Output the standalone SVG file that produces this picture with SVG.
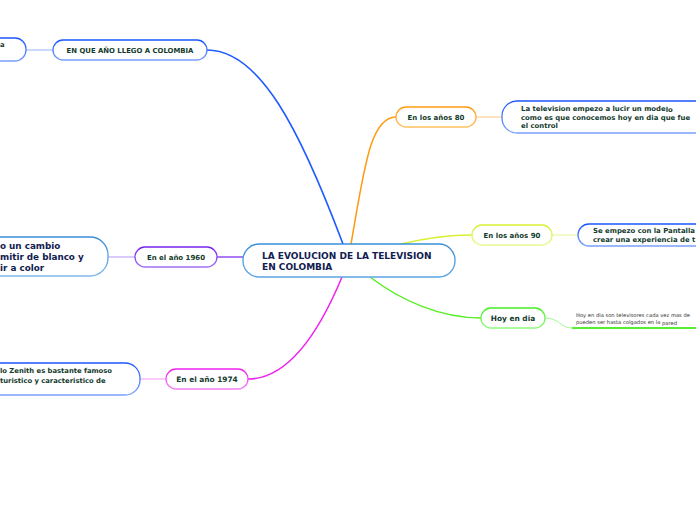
<svg xmlns="http://www.w3.org/2000/svg" width="696" height="520" viewBox="0 0 696 520">
<style>
  .t { font-family: "DejaVu Sans", Verdana, sans-serif; font-weight: bold; fill: #123a2c; }
  .tn { font-family: "DejaVu Sans", Verdana, sans-serif; font-weight: bold; fill: #102050; }
  .ts { font-family: "DejaVu Sans", Verdana, sans-serif; fill: #333; font-size: 5.2px; }
  .box { fill: #fff; stroke-width: 1.3; }
  .c { fill: none; }
</style>
<defs>
  <linearGradient id="gBlue" x1="0" y1="0" x2="0" y2="1"><stop offset="0" stop-color="#1a55ff"/><stop offset="1" stop-color="#7aa0ff"/></linearGradient>
  <linearGradient id="gCentral" x1="0" y1="0" x2="0" y2="1"><stop offset="0" stop-color="#3a8ed8"/><stop offset="1" stop-color="#5aa6e4"/></linearGradient>
  <linearGradient id="gOrange" x1="0" y1="0" x2="0" y2="1"><stop offset="0" stop-color="#ff9a10"/><stop offset="1" stop-color="#ffc060"/></linearGradient>
  <linearGradient id="gYellow" x1="0" y1="0" x2="0" y2="1"><stop offset="0" stop-color="#d8f030"/><stop offset="1" stop-color="#e8f890"/></linearGradient>
  <linearGradient id="gGreen" x1="0" y1="0" x2="0" y2="1"><stop offset="0" stop-color="#44ee22"/><stop offset="1" stop-color="#90f880"/></linearGradient>
  <linearGradient id="gPurple" x1="0" y1="0" x2="0" y2="1"><stop offset="0" stop-color="#7722ee"/><stop offset="1" stop-color="#a070f4"/></linearGradient>
  <linearGradient id="gMagenta" x1="0" y1="0" x2="0" y2="1"><stop offset="0" stop-color="#ee22ee"/><stop offset="1" stop-color="#f480f4"/></linearGradient>
  <linearGradient id="gBlue2" x1="0" y1="0" x2="0" y2="1"><stop offset="0" stop-color="#3a8ed8"/><stop offset="1" stop-color="#80b8ec"/></linearGradient>
</defs>

<g id="connectors">
  <path class="c" d="M343,244 C300,130 260,50 207,50" stroke="#1f5cff" stroke-width="1.6"/>
  <path class="c" d="M351,244 C364,170 370,117 396,117" stroke="#ff9a10" stroke-width="1.5"/>
  <path class="c" d="M401,244 C430,237 450,235 472,235" stroke="#d8f030" stroke-width="1.5"/>
  <path class="c" d="M370,277 C400,300 440,318 481,318" stroke="#55ee22" stroke-width="1.4"/>
  <path class="c" d="M342,277 C320,330 290,379 248,379" stroke="#ee22ee" stroke-width="1.5"/>
  <path class="c" d="M243,257 L217,257" stroke="#7722ee" stroke-width="1.2"/>
  <path class="c" d="M26,50 L53,50" stroke="#a8c0ff" stroke-width="1.2"/>
  <path class="c" d="M476,117 L502,117" stroke="#ffd090" stroke-width="1.2"/>
  <path class="c" d="M552,235 L578,235" stroke="#eaf8a0" stroke-width="1.2"/>
  <path class="c" d="M108,257 L135,257" stroke="#c0a8f8" stroke-width="1.2"/>
  <path class="c" d="M140,379 L166,379" stroke="#f8a8f8" stroke-width="1.2"/>
  <path class="c" d="M545,318 C560,318 560,328 572,328" stroke="#a8f898" stroke-width="1"/>
  <path class="c" d="M572,328 L696,328" stroke="#55ee33" stroke-width="2"/>
</g>

<g id="central">
  <rect class="box" x="243" y="244" width="212" height="33" rx="16" stroke="url(#gCentral)"/>
  <text class="tn" x="262" y="259" font-size="9">LA EVOLUCION DE LA TELEVISION</text>
  <text class="tn" x="262" y="270" font-size="9">EN COLOMBIA</text>
</g>

<g id="llego">
  <rect class="box" x="53" y="40" width="154" height="20" rx="10" stroke="url(#gBlue)"/>
  <text class="t" x="130" y="53" font-size="6.9" text-anchor="middle">EN QUE AÑO LLEGO A COLOMBIA</text>
</g>
<g id="llego-detail">
  <rect class="box" x="-30" y="38" width="56" height="23" rx="11" stroke="url(#gBlue)"/>
  <text class="t" x="0" y="47" font-size="6.8">a</text>
</g>

<g id="anos80">
  <rect class="box" x="396" y="107" width="80" height="20" rx="10" stroke="url(#gOrange)"/>
  <text class="t" x="436" y="120" font-size="7" text-anchor="middle">En los años 80</text>
</g>
<g id="anos80-detail">
  <rect class="box" x="502" y="101" width="220" height="32" rx="15" stroke="url(#gBlue)"/>
  <text class="t" x="521" y="111" font-size="6.9">La television empezo a lucir un mode<tspan dy="1">lo</tspan></text>
  <text class="t" x="521" y="120" font-size="6.9">como es que conocemos hoy en dia que fue</text>
  <text class="t" x="521" y="128" font-size="6.9">el control</text>
</g>

<g id="anos90">
  <rect class="box" x="472" y="225" width="80" height="20" rx="10" stroke="url(#gYellow)"/>
  <text class="t" x="512" y="238" font-size="7" text-anchor="middle">En los años 90</text>
</g>
<g id="anos90-detail">
  <rect class="box" x="578" y="224" width="140" height="22" rx="11" stroke="url(#gBlue)"/>
  <text class="t" x="593" y="233" font-size="6.9">Se empezo con la Pantalla</text>
  <text class="t" x="593" y="242" font-size="6.9">crear una experiencia de t</text>
</g>

<g id="hoy">
  <rect class="box" x="481" y="308" width="64" height="20" rx="10" stroke="url(#gGreen)"/>
  <text class="t" x="513" y="321" font-size="7.4" text-anchor="middle">Hoy en dia</text>
</g>
<g id="hoy-detail">
  <text class="ts" x="576" y="317">Hoy en dia son televisores cada vez mas de</text>
  <text class="ts" x="576" y="323.5">pueden ser hasta colgados en la <tspan dy="1">pared</tspan></text>
</g>

<g id="ano1960">
  <rect class="box" x="135" y="247" width="82" height="20" rx="10" stroke="url(#gPurple)"/>
  <text class="t" x="176" y="260" font-size="7" text-anchor="middle">En el año 1960</text>
</g>
<g id="ano1960-detail">
  <rect class="box" x="-40" y="237" width="148" height="39" rx="18" stroke="url(#gBlue2)"/>
  <text class="tn" x="0" y="249" font-size="8.8">o un cambio</text>
  <text class="tn" x="0" y="260" font-size="8.8">mitir de blanco y</text>
  <text class="tn" x="0" y="271" font-size="8.8">ir a color</text>
</g>

<g id="ano1974">
  <rect class="box" x="166" y="369" width="82" height="20" rx="10" stroke="url(#gMagenta)"/>
  <text class="t" x="207" y="382" font-size="7.4" text-anchor="middle">En el año 1974</text>
</g>
<g id="ano1974-detail">
  <rect class="box" x="-40" y="363" width="180" height="32" rx="15" stroke="url(#gBlue)"/>
  <text class="t" x="0" y="373" font-size="6.8">lo Zenith es bastante famoso</text>
  <text class="t" x="0" y="383" font-size="6.8">turistico y caracteristico de</text>
</g>
</svg>
